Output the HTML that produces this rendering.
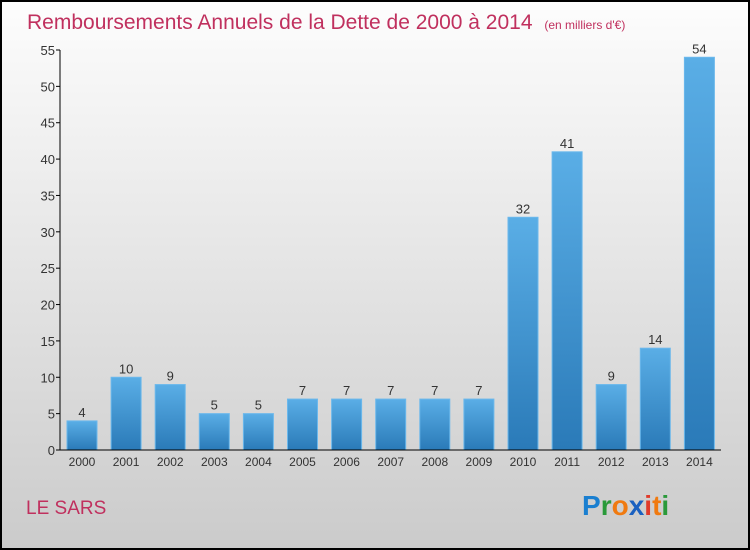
<!DOCTYPE html>
<html><head><meta charset="utf-8"><style>
body{margin:0}
svg{display:block;font-family:"Liberation Sans",sans-serif}
</style></head><body>
<svg width="750" height="550" viewBox="0 0 750 550">
<defs>
<linearGradient id="bg" x1="0" y1="0" x2="0" y2="1"><stop offset="0" stop-color="#fdfdfd"/><stop offset="1" stop-color="#cbcbcb"/></linearGradient>
<linearGradient id="bar" x1="0" y1="0" x2="0" y2="1"><stop offset="0" stop-color="#5aaee6"/><stop offset="1" stop-color="#2a7ab8"/></linearGradient>
</defs>
<rect x="1" y="1" width="748" height="548" fill="url(#bg)" stroke="#000" stroke-width="2"/>
<text x="27" y="29" font-size="21" fill="#c0305e">Remboursements Annuels de la Dette de 2000 à 2014 <tspan font-size="12" dx="6">(en milliers d'€)</tspan></text>
<g id="yax"></g><g id="bars"></g><g id="xax"></g>
<line x1="60" y1="50" x2="60" y2="450" stroke="#000"/>
<line x1="60" y1="450" x2="721" y2="450" stroke="#000"/>
<text x="26" y="514" font-size="19" fill="#c0305e">LE SARS</text>
<text x="582" y="515" font-size="28" font-weight="bold"><tspan fill="#1a7fd0">P</tspan><tspan fill="#2a9a3a">r</tspan><tspan fill="#f07a10">o</tspan><tspan fill="#1a60c0">x</tspan><tspan fill="#e03a2a">i</tspan><tspan fill="#f07a10">t</tspan><tspan fill="#2a9a3a">i</tspan></text>
</svg>
<script>
const years=["2000","2001","2002","2003","2004","2005","2006","2007","2008","2009","2010","2011","2012","2013","2014"];
const values=[4,10,9,5,5,7,7,7,7,7,32,41,9,14,54];
const yTicks=[0,5,10,15,20,25,30,35,40,45,50,55];
const NS="http://www.w3.org/2000/svg";
const y=v=>450-v*400/55;
const x=i=>82+i*44.1;
function mk(t,a,p,txt){const e=document.createElementNS(NS,t);for(const k in a)e.setAttribute(k,a[k]);if(txt!==undefined)e.textContent=txt;p.appendChild(e);return e;}
const ya=document.getElementById('yax'),ba=document.getElementById('bars'),xa=document.getElementById('xax');
yTicks.forEach(v=>{
 const l=mk('line',{x1:56,x2:60,y1:y(v),y2:y(v),stroke:'#000'},ya);
 
 
 const t=mk('text',{x:55,y:y(v)+5,'text-anchor':'end','font-size':13,fill:'#333'},ya,v);
 
 
});
values.forEach((v,i)=>{
 const r=mk('rect',{x:x(i)-15,y:y(v),width:30,height:450-y(v),fill:'url(#bar)',stroke:'#6bb8ec','stroke-width':1},ba);
 
 
 const t=mk('text',{x:x(i),y:y(v)-4,'text-anchor':'middle','font-size':13,fill:'#333'},ba,v);
 
 
 const xl=mk('text',{x:x(i),y:466,'text-anchor':'middle','font-size':12,fill:'#333'},xa,years[i]);
 
 
});
</script>
</body></html>
